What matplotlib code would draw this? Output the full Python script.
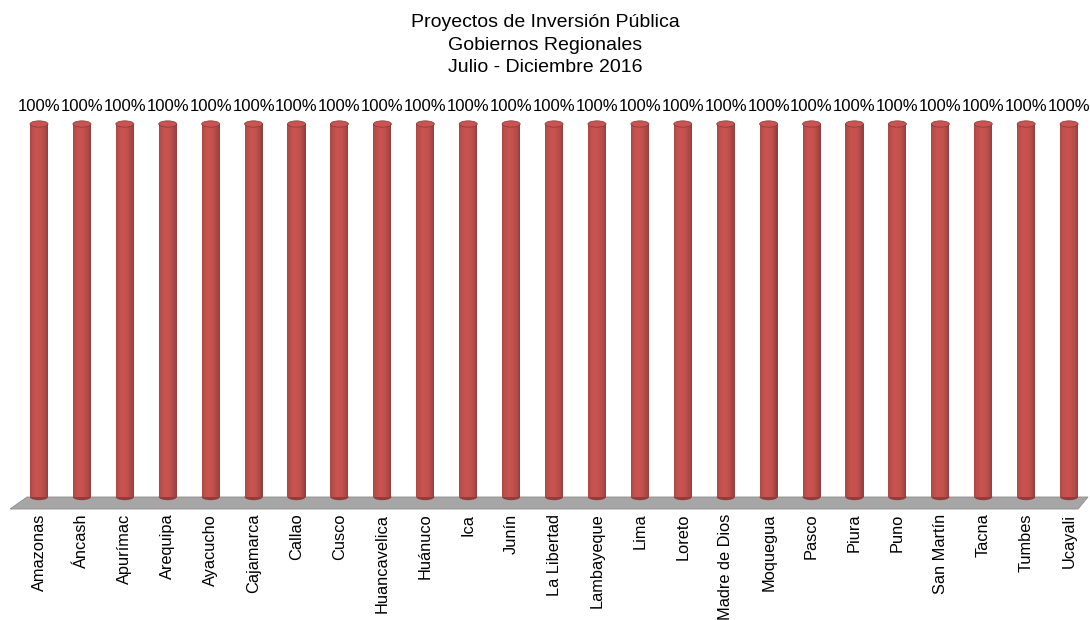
import numpy as np
import matplotlib.pyplot as plt
from matplotlib.patches import Ellipse, Polygon
from matplotlib.colors import to_rgb

plt.rcParams["font.family"] = ["Liberation Sans", "DejaVu Sans"]

# Data
regiones = ["Amazonas", "Áncash", "Apurímac", "Arequipa", "Ayacucho", "Cajamarca",
            "Callao", "Cusco", "Huancavelica", "Huánuco", "Ica", "Junín",
            "La Libertad", "Lambayeque", "Lima", "Loreto", "Madre de Dios",
            "Moquegua", "Pasco", "Piura", "Puno", "San Martín", "Tacna",
            "Tumbes", "Ucayali"]
porcentaje = [100] * len(regiones)
etiquetas = ["100%"] * len(regiones)

titulo = "Proyectos de Inversión Pública\nGobiernos Regionales\nJulio - Diciembre 2016"

base = np.array(to_rgb("#C0504D"))
bw = 0.42
n_strips = 16

fig = plt.figure(figsize=(10.9, 6.2), dpi=100)
ax = fig.add_axes([0.0, 1 - 497 / 620, 1.0, (497 - 124) / 620])

x = np.arange(len(regiones))
step = 42.92
ax.set_xlim(-39 / step, (1090 - 39) / step)
ax.set_ylim(0, 100)

# floor (grey slab, axes coords)
y0 = -8 / 373
floor = Polygon([[10 / 1090, y0 - 4 / 373], [1078 / 1090, y0 - 4 / 373],
                 [1088 / 1090, y0 + 8 / 373], [27 / 1090, y0 + 8 / 373]],
                closed=True, transform=ax.transAxes, facecolor="#A6A6A6",
                edgecolor="#8C8C8C", lw=0.6, clip_on=False, zorder=1)
ax.add_patch(floor)

# cylinders: shaded strips
edges = np.linspace(-bw / 2, bw / 2, n_strips + 1)
mids = (edges[:-1] + edges[1:]) / 2
for m in mids:
    t = m / (bw / 2)  # -1..1
    light = 1.0 - 0.5 * (t + 0.15) ** 2
    col = np.clip(base * (0.62 + 0.42 * light), 0, 1)
    ax.bar(x + m, porcentaje, width=bw / n_strips * 1.05, color=col,
           linewidth=0, zorder=3)

cap_h = 1.7
for xi, v in zip(x, porcentaje):
    ax.add_patch(Ellipse((xi, 0), bw, cap_h, facecolor=base * 0.75, edgecolor="none",
                         zorder=2.9, clip_on=False))
    ax.add_patch(Ellipse((xi, v), bw, cap_h, facecolor=np.clip(base * 1.05, 0, 1),
                         edgecolor=base * 0.7, lw=0.5, zorder=4, clip_on=False))

for xi, v, lab in zip(x, porcentaje, etiquetas):
    ax.text(xi, v + 18 / 3.73, lab, ha="center", va="center", fontsize=12,
            color="black", zorder=5)

ax.set_xticks(x)
ax.set_xticklabels(regiones, rotation=90, fontsize=11.8, va="top", ha="center")
ax.tick_params(axis="x", length=0, pad=12)
ax.set_yticks([])
for s in ax.spines.values():
    s.set_visible(False)
ax.patch.set_alpha(0)

fig.text(0.5, 1 - 45 / 620, titulo, ha="center", va="center", fontsize=14,
         linespacing=1.42)

plt.savefig("out.png", dpi=100)
